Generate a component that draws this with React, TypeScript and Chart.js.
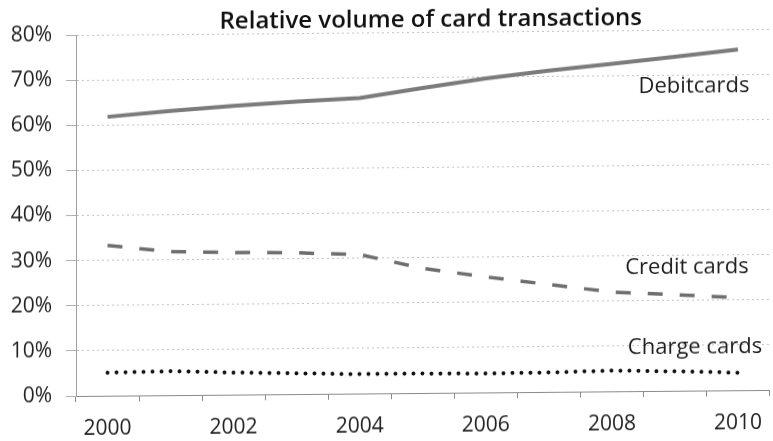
import React, { useEffect, useRef } from 'react';
import { Chart, registerables } from 'chart.js';

Chart.register(...registerables);

const chartTitle = 'Relative volume of card transactions';
const years = ['2000', '2001', '2002', '2003', '2004', '2005', '2006', '2007', '2008', '2009', '2010'];
const debitCards = [61.8, 63.0, 64.0, 64.8, 65.5, 67.6, 69.6, 71.2, 72.6, 74.0, 75.5];
const creditCards = [33.3, 31.8, 31.5, 31.3, 30.8, 27.6, 25.6, 23.8, 22.0, 21.3, 20.5];
const chargeCards = [5.1, 5.3, 4.9, 4.6, 4.3, 4.3, 4.2, 4.3, 4.6, 4.3, 3.9];
const seriesNames = ['Debitcards', 'Credit cards', 'Charge cards'];
// vertical anchor of each series name, in axis units (%)
const seriesLabelLevels = [67.5, 27.4, 9.6];
const yMin = 0;
const yMax = 80;
const yStep = 10;

const FONT = "'Open Sans', 'Noto Sans', sans-serif";

const seriesLabelPlugin = {
  id: 'seriesLabels',
  afterDatasetsDraw(chart: any) {
    const { ctx, scales } = chart;
    const xs = scales.x;
    const ys = scales.y;
    const lastX = xs.getPixelForValue(years.length - 1);
    const dx = [-44, -51, -43];
    ctx.save();
    ctx.font = `22px ${FONT}`;
    ctx.fillStyle = '#1e1e1e';
    ctx.textAlign = 'center';
    ctx.textBaseline = 'middle';
    seriesNames.forEach((name, i) => {
      ctx.fillText(name, lastX + dx[i], ys.getPixelForValue(seriesLabelLevels[i]));
    });
    ctx.restore();
  },
};

const titlePlugin = {
  id: 'customTitle',
  afterDraw(chart: any) {
    const { ctx, chartArea } = chart;
    ctx.save();
    ctx.font = `600 24px ${FONT}`;
    ctx.fillStyle = '#111';
    ctx.textAlign = 'center';
    ctx.textBaseline = 'middle';
    ctx.fillText(chartTitle, (chartArea.left + chartArea.right) / 2 + 8, 23);
    ctx.restore();
  },
};

export default function App() {
  const canvasRef = useRef<HTMLCanvasElement | null>(null);

  useEffect(() => {
    if (!canvasRef.current) return;
    const chart = new Chart(canvasRef.current, {
      type: 'line',
      data: {
        labels: years,
        datasets: [
          {
            label: seriesNames[0],
            data: debitCards,
            borderColor: '#7b7b7b',
            borderWidth: 4,
            pointRadius: 0,
            tension: 0,
            fill: false,
          },
          {
            label: seriesNames[1],
            data: creditCards,
            borderColor: '#6e6e6e',
            borderWidth: 3.5,
            borderDash: [15, 17],
            pointRadius: 0,
            tension: 0,
            fill: false,
          },
          {
            label: seriesNames[2],
            data: chargeCards,
            borderColor: '#111111',
            borderWidth: 4,
            borderDash: [0, 9],
            borderCapStyle: 'round',
            pointRadius: 0,
            tension: 0,
            fill: false,
          },
        ],
      },
      options: {
        responsive: false,
        animation: false,
        layout: { padding: { top: 35, left: 0, right: 0, bottom: 0 } },
        plugins: {
          legend: { display: false },
          title: { display: false },
          tooltip: { enabled: false },
        },
        scales: {
          x: {
            offset: true,
            afterFit: (scale: any) => {
              scale.height = 45;
            },
            grid: {
              offset: true,
              drawOnChartArea: false,
              drawTicks: true,
              tickLength: 6,
              tickColor: '#8a8a8a',
            },
            border: { display: true, color: '#8a8a8a', width: 1 },
            ticks: {
              autoSkip: false,
              maxRotation: 0,
              padding: 14,
              color: '#222',
              font: { family: FONT, size: 21 },
              callback: (_v: any, i: number) => (i % 2 === 0 ? years[i] : ''),
            },
          },
          y: {
            min: yMin,
            max: yMax,
            afterFit: (scale: any) => {
              scale.width = 76;
            },
            grid: {
              color: '#c4c4c4',
              lineWidth: 1,
              tickLength: 10,
              tickColor: '#b0b0b0',
              tickBorderDash: [],
            },
            border: { display: true, color: '#a0a0a0', width: 1, dash: [2, 3] },
            ticks: {
              stepSize: yStep,
              padding: 14,
              color: '#222',
              font: { family: FONT, size: 21 },
              callback: (v: any) => `${v}%`,
            },
          },
        },
      },
      plugins: [seriesLabelPlugin, titlePlugin],
    } as any);
    return () => chart.destroy();
  }, []);

  return (
    <div
      style={{
        position: 'fixed',
        left: 0,
        top: 0,
        width: 776,
        height: 441,
        background: '#fff',
        transform: 'skewY(-0.5deg)',
        transformOrigin: '76px 0',
      }}
    >
      <canvas ref={canvasRef} width={776} height={441} style={{ display: 'block' }} />
    </div>
  );
}
